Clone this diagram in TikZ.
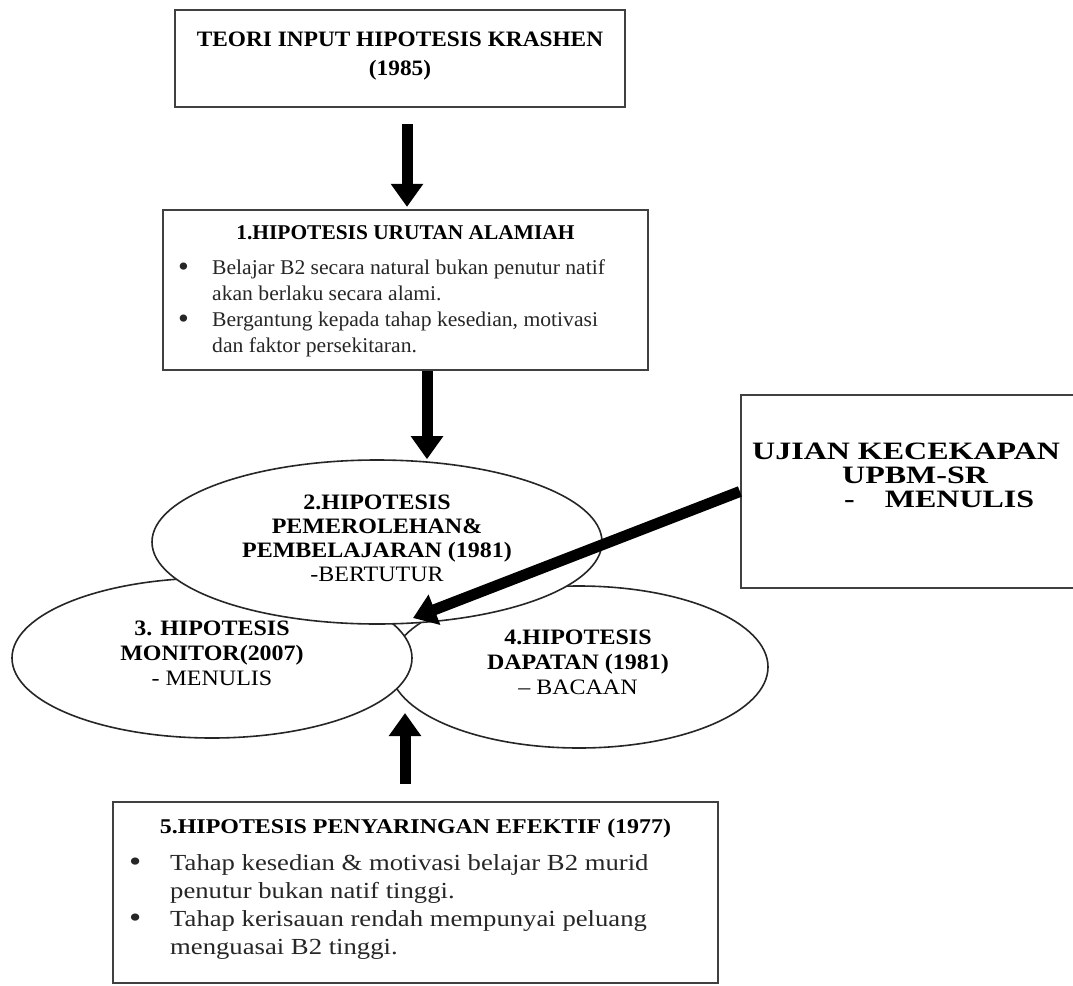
\documentclass[tikz,border=0pt]{standalone}
\usepackage{fontspec}
\setmainfont{Liberation Serif}
\newfontfamily\fTop[FakeStretch=1.06]{Liberation Serif}
\newfontfamily\fBa[FakeStretch=1.02]{Liberation Serif}
\newfontfamily\fBb[FakeStretch=1.03]{Liberation Serif}
\newfontfamily\fEll[FakeStretch=1.09]{Liberation Serif}
\newfontfamily\fFa[FakeStretch=1.14]{Liberation Serif}
\newfontfamily\fFb[FakeStretch=1.16]{Liberation Serif}
\newfontfamily\fUj[FakeStretch=1.28]{Liberation Serif}
\newcommand\bigbul{\raisebox{-1.5pt}{\fontsize{30}{30}\selectfont\textbullet}}
\usetikzlibrary{arrows.meta,shapes.geometric}
\tikzset{
  boxshape/.style={draw=black!75, line width=2.2pt, rectangle, inner sep=0pt, fill=white},
  ellshape/.style={draw=black!85, line width=1.6pt, ellipse, inner sep=0pt, fill=white},
  bigarrow/.style={line width=11pt, -{Triangle[width=31pt,length=23pt]}, draw=black},
  toptitle/.style={font=\fTop\bfseries\fontsize{22}{29}\selectfont, align=center, inner sep=0pt},
  onetitle/.style={font=\fBa\bfseries\fontsize{21}{24}\selectfont, inner sep=0pt},
  onebody/.style={font=\fBb\fontsize{21}{26}\selectfont, align=left, inner sep=0pt, text=black!85},
  elltwo/.style={font=\fEll\bfseries\fontsize{22}{24}\selectfont, align=center, inner sep=0pt},
  ellthree/.style={font=\fEll\bfseries\fontsize{22}{25}\selectfont, align=center, inner sep=0pt},
  fivetitle/.style={font=\fFa\bfseries\fontsize{21}{24}\selectfont, inner sep=0pt},
  fivebody/.style={font=\fFb\fontsize{23}{28}\selectfont, align=left, inner sep=0pt, text=black!85},
  ujtext/.style={font=\fUj\bfseries\fontsize{25}{24}\selectfont, align=left, inner sep=0pt}
}
\begin{document}
\begin{tikzpicture}[x=1pt, y=-1pt]
\useasboundingbox (0,0) rectangle (1073,985);
\clip (0,0) rectangle (1073,985);
\fill[white] (0,0) rectangle (1073,985);

% boxes
\node[boxshape, minimum width=450pt, minimum height=97pt] (top) at (400,58.5) {};
\node[boxshape, minimum width=485pt, minimum height=160pt] (box1) at (405.5,290) {};
\node[boxshape, minimum width=349pt, minimum height=193pt] (ujian) at (915.5,491.5) {};
\node[boxshape, minimum width=605pt, minimum height=181pt] (box5) at (415.5,892.5) {};

% ellipses (back to front)
\node[ellshape, minimum width=378pt, minimum height=162pt] (e4) at (579,667) {};
\node[ellshape, minimum width=400pt, minimum height=160pt] (e3) at (212,658) {};
\node[ellshape, minimum width=450pt, minimum height=164pt] (e2) at (377,542) {};

% texts
\node[toptitle] (tt) at (400,56) {TEORI INPUT HIPOTESIS KRASHEN\\(1985)};
\node[onetitle] (t1) at (405.5,233) {1.HIPOTESIS URUTAN ALAMIAH};
\node[onebody, anchor=north west] (l1) at (178,260) {%
\makebox[34pt][l]{\bigbul}Belajar B2 secara natural bukan penutur natif\\
\hspace*{34pt}akan berlaku secara alami.\\
\makebox[34pt][l]{\bigbul}Bergantung kepada tahap kesedian, motivasi\\
\hspace*{34pt}dan faktor persekitaran.};

\node[elltwo] (t2) at (377,538) {2.HIPOTESIS\\PEMEROLEHAN\&\\PEMBELAJARAN (1981)\\{\mdseries -BERTUTUR}};
\node[ellthree] (t3) at (212,653) {3. HIPOTESIS\\MONITOR(2007)\\{\mdseries - MENULIS}};
\node[ellthree] (t4) at (578,662.5) {4.HIPOTESIS\\DAPATAN (1981)\\{\mdseries \textendash\ BACAAN}};

\node[ujtext, anchor=north west] (tu) at (752,443) {UJIAN KECEKAPAN\\
\hspace*{90pt}UPBM-SR\\
\hspace*{92pt}-\hspace{30pt}MENULIS};

\node[fivetitle] (t5) at (415.5,828) {5.HIPOTESIS PENYARINGAN EFEKTIF (1977)};
\node[fivebody, anchor=north west] (l5) at (129,854) {%
\makebox[41pt][l]{\bigbul}Tahap kesedian \& motivasi belajar B2 murid\\
\hspace*{41pt}penutur bukan natif tinggi.\\
\makebox[41pt][l]{\bigbul}Tahap kerisauan rendah mempunyai peluang\\
\hspace*{41pt}menguasai B2 tinggi.};

% arrow free ends
\coordinate (a3tip) at (405,713);
\coordinate (utip) at (413,618);

% arrows
\draw[bigarrow] ([xshift=7pt,yshift=-16pt]top.south) -- ([xshift=1.5pt,yshift=2pt]box1.north);
\draw[bigarrow] ([xshift=21.5pt]box1.south) -- ([xshift=50pt]e2.north);
\draw[bigarrow] ([xshift=-10.5pt,yshift=17pt]box5.north) -- (a3tip);
\draw[bigarrow] (ujian.west) -- (utip);
\end{tikzpicture}
\end{document}
